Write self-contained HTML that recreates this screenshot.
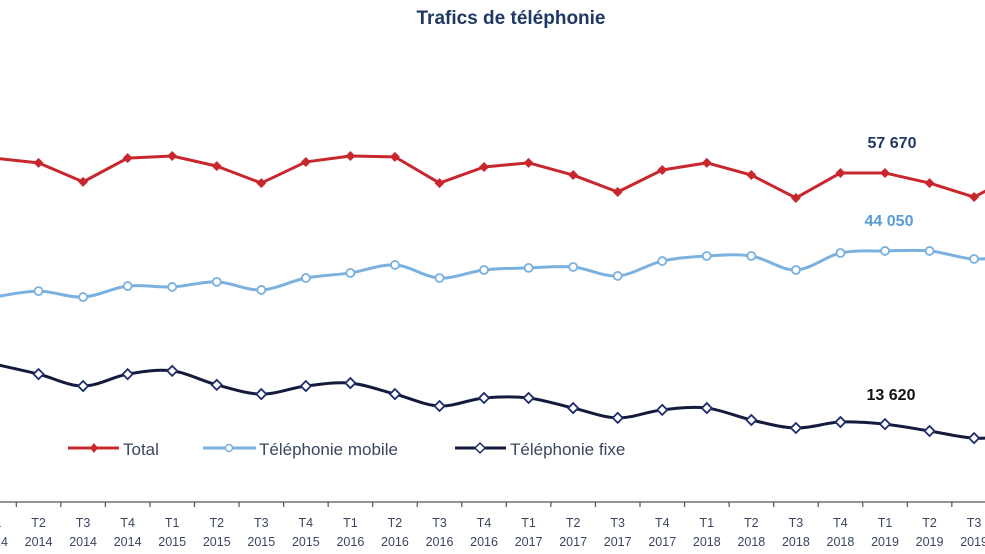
<!DOCTYPE html>
<html><head><meta charset="utf-8"><style>
body{margin:0;background:#fff;}
svg{display:block;font-family:"Liberation Sans",sans-serif;}
</style></head><body>
<svg id="chart" width="985" height="554">
<text x="511" y="24" text-anchor="middle" font-size="19" font-weight="bold" fill="#1f3864">Trafics de téléphonie</text>
<g id="axis"></g>
<g id="series"></g>
<text x="892" y="148" text-anchor="middle" font-size="16" font-weight="bold" fill="#1f3864">57 670</text>
<text x="889" y="226" text-anchor="middle" font-size="16" font-weight="bold" fill="#5b9bd5">44 050</text>
<text x="891" y="400" text-anchor="middle" font-size="16" font-weight="bold" fill="#111">13 620</text>
<g>
 <g>
  <line x1="68" y1="448" x2="119" y2="448" stroke="#c8282d" stroke-width="3"/>
  <path d="M94 443 L98 448 L94 453 L90 448 Z" fill="#c8282d"/>
  <text x="123" y="455" font-size="17" fill="#3a4660">Total</text>
 </g>
 <g>
  <line x1="203" y1="448" x2="256" y2="448" stroke="#7ab1df" stroke-width="3"/>
  <circle cx="229" cy="448" r="3.5" fill="#fff" stroke="#7ab1df" stroke-width="1.5"/>
  <text x="259" y="455" font-size="17" fill="#3a4660">Téléphonie mobile</text>
 </g>
 <g>
  <line x1="455" y1="448" x2="506" y2="448" stroke="#141a3c" stroke-width="3"/>
  <path d="M480 443 L485 448 L480 453 L475 448 Z" fill="#fff" stroke="#1f2d6e" stroke-width="1.5"/>
  <text x="510" y="455" font-size="17" fill="#3a4660">Téléphonie fixe</text>
 </g>
</g>
</svg>
<script>
const quarters = ["T1","T2","T3","T4","T1","T2","T3","T4","T1","T2","T3","T4","T1","T2","T3","T4","T1","T2","T3","T4","T1","T2","T3","T4"];
const years = ["2014","2014","2014","2014","2015","2015","2015","2015","2016","2016","2016","2016","2017","2017","2017","2017","2018","2018","2018","2018","2019","2019","2019","2019"];
const totalValues = [60300,59500,56300,60300,60650,58950,56100,59650,60650,60500,56100,58800,59500,57450,54600,58300,59500,57450,53600,57800,57800,56100,53750,57670];
const mobileValues = [36950,37950,36950,38800,38650,39500,38150,40150,41000,42350,40150,41500,41850,42000,40500,43000,43850,43850,41500,44350,44700,44700,43350,44050];
const fixeValues = [25700,24000,22000,24000,24550,22200,20650,22000,22500,20650,18650,20000,20000,18300,16650,18000,18300,16300,14950,15950,15600,14450,13250,13620];

const NS = "http://www.w3.org/2000/svg";
function xPos(i){ return -6 + i*44.55; }
function yPos(v){ return 517 - v/168; }
function mk(tag, attrs, parent){
  const e = document.createElementNS(NS, tag);
  for (const k in attrs) e.setAttribute(k, attrs[k]);
  parent.appendChild(e); return e;
}
const axis = document.getElementById('axis');
mk('line',{x1:0,y1:502,x2:985,y2:502,stroke:'#555','stroke-width':1.2},axis);
quarters.forEach((q,i)=>{
  const tx = xPos(i)+22.3;
  const t = mk('line',{x1:tx,y1:502,x2:tx,y2:507,stroke:'#555','stroke-width':1.2},axis);
  
  
  const l1 = mk('text',{x:xPos(i),y:527,'text-anchor':'middle','font-size':12.5,fill:'#3a4660'},axis);
  l1.textContent = q;
  
  
  const l2 = mk('text',{x:xPos(i),y:546,'text-anchor':'middle','font-size':12.5,fill:'#3a4660'},axis);
  l2.textContent = years[i];
  
  
});

function smoothPath(pts){
  let d = `M${pts[0][0]},${pts[0][1]}`;
  for (let i=0;i<pts.length-1;i++){
    const p0=pts[Math.max(0,i-1)], p1=pts[i], p2=pts[i+1], p3=pts[Math.min(pts.length-1,i+2)];
    const c1x=p1[0]+(p2[0]-p0[0])/6, c1y=p1[1]+(p2[1]-p0[1])/6;
    const c2x=p2[0]-(p3[0]-p1[0])/6, c2y=p2[1]-(p3[1]-p1[1])/6;
    d += ` C${c1x},${c1y} ${c2x},${c2y} ${p2[0]},${p2[1]}`;
  }
  return d;
}
const series = document.getElementById('series');
function drawSeries(vals, name, color, smooth, marker){
  const pts = vals.map((v,i)=>[xPos(i), yPos(v)]);
  const d = smooth ? smoothPath(pts) : 'M'+pts.map(p=>p.join(',')).join(' L');
  const path = mk('path',{d:d,fill:'none',stroke:color,'stroke-width':3,'stroke-linejoin':'round'},series);
  
  
  pts.forEach(p=>{
    let m;
    if (marker==='solid-diamond'){
      m = mk('path',{d:`M${p[0]} ${p[1]-5} L${p[0]+5} ${p[1]} L${p[0]} ${p[1]+5} L${p[0]-5} ${p[1]} Z`,fill:color},series);
    } else if (marker==='circle'){
      m = mk('circle',{cx:p[0],cy:p[1],r:4,fill:'#fff',stroke:color,'stroke-width':1.8},series);
    } else {
      m = mk('path',{d:`M${p[0]} ${p[1]-5} L${p[0]+5} ${p[1]} L${p[0]} ${p[1]+5} L${p[0]-5} ${p[1]} Z`,fill:'#fff',stroke:'#1f2d6e','stroke-width':1.8},series);
    }
    
    
  });
}
drawSeries(totalValues,'total','#c8282d',false,'solid-diamond');
drawSeries(mobileValues,'mobile','#7ab1df',true,'circle');
drawSeries(fixeValues,'fixe','#141a3c',true,'open-diamond');
</script>
</body></html>
